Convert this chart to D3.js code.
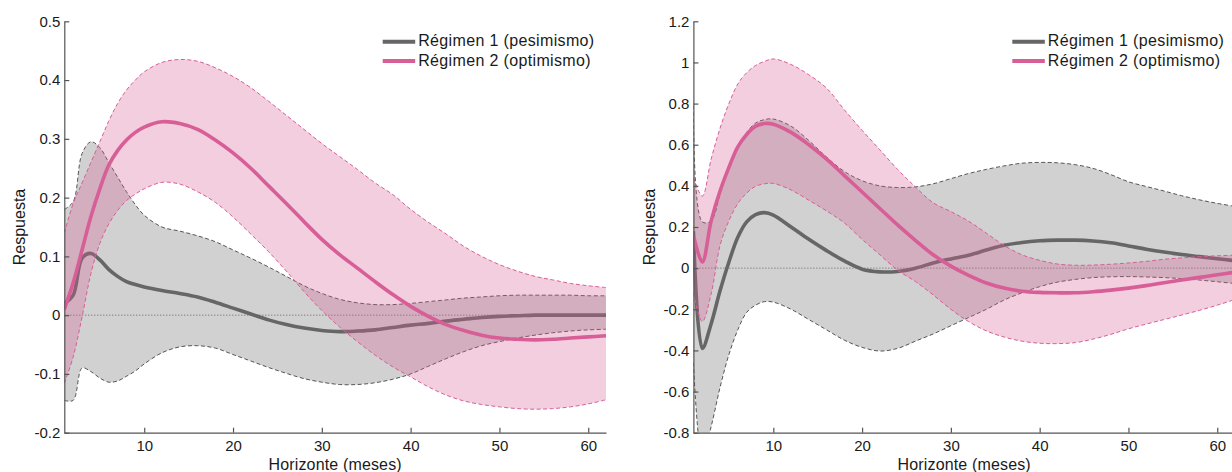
<!DOCTYPE html>
<html>
<head>
<meta charset="utf-8">
<script src="https://cdn.jsdelivr.net/npm/d3@7"></script>
<style>
  body { margin: 0; background: #fff; }
  svg text { font-family: "Liberation Sans", Arial, Helvetica, sans-serif; fill: #1a1a1a; }
</style>
</head>
<body>
<svg id="chart" width="1232" height="472"></svg>
<script>
// horizons (months) at which the responses were read
var horizons = [1, 2, 3, 4, 5, 6, 7, 8, 9,
  10, 12, 14, 16, 18, 20, 22, 24, 26, 28, 30, 32, 34, 36, 38, 40,
  42, 44, 46, 48, 50, 52, 54, 56, 58, 60, 62];

var seriesNames = ["Régimen 1 (pesimismo)", "Régimen 2 (optimismo)"];

// ---- left panel ----
var leftR1 = [0.02, 0.034, 0.097, 0.105, 0.094, 0.078, 0.066, 0.057, 0.052,
  0.048, 0.042, 0.037, 0.031, 0.022, 0.012, 0.002, -0.008, -0.016, -0.022, -0.026, -0.028, -0.027, -0.025, -0.021, -0.017,
  -0.014, -0.010, -0.007, -0.004, -0.002, -0.001, 0, 0, 0, 0, 0];
var leftR1Up = [0.18, 0.193, 0.275, 0.295, 0.285, 0.26, 0.235, 0.21, 0.188,
  0.17, 0.15, 0.143, 0.135, 0.125, 0.111, 0.097, 0.082, 0.066, 0.05, 0.037, 0.027, 0.021, 0.018, 0.018, 0.02,
  0.023, 0.026, 0.029, 0.031, 0.033, 0.034, 0.034, 0.034, 0.034, 0.033, 0.033];
var leftR1Lo = [-0.145, -0.145, -0.09, -0.096, -0.107, -0.114, -0.112, -0.104, -0.095,
  -0.083, -0.064, -0.054, -0.052, -0.056, -0.067, -0.078, -0.089, -0.099, -0.108, -0.114, -0.118, -0.118, -0.115, -0.109, -0.1,
  -0.087, -0.074, -0.062, -0.052, -0.045, -0.039, -0.034, -0.03, -0.027, -0.025, -0.024];
var leftR2 = [0.01, 0.055, 0.111, 0.168, 0.215, 0.255, 0.28, 0.298, 0.311,
  0.32, 0.329, 0.326, 0.316, 0.298, 0.276, 0.25, 0.22, 0.19, 0.159, 0.129, 0.103, 0.08, 0.057, 0.035, 0.015,
  -0.002, -0.016, -0.026, -0.034, -0.039, -0.041, -0.042, -0.041, -0.039, -0.037, -0.035];
var leftR2Up = [0.14, 0.19, 0.225, 0.26, 0.295, 0.33, 0.36, 0.383, 0.4,
  0.414, 0.43, 0.435, 0.432, 0.421, 0.406, 0.387, 0.364, 0.34, 0.316, 0.292, 0.27, 0.248, 0.225, 0.205, 0.18,
  0.158, 0.138, 0.117, 0.1, 0.086, 0.075, 0.066, 0.06, 0.054, 0.05, 0.047];
var leftR2Lo = [-0.116, -0.071, -0.003, 0.071, 0.122, 0.155, 0.178, 0.195, 0.206,
  0.215, 0.226, 0.223, 0.21, 0.192, 0.167, 0.138, 0.108, 0.075, 0.04, 0.008, -0.02, -0.045, -0.068, -0.088, -0.105,
  -0.122, -0.136, -0.146, -0.152, -0.156, -0.159, -0.16, -0.159, -0.156, -0.151, -0.144];
var leftYTicks = [-0.2, -0.1, 0, 0.1, 0.2, 0.3, 0.4, 0.5];

// ---- right panel ----
var rightR1 = [0.18, -0.39, -0.27, -0.11, 0.03, 0.15, 0.225, 0.26, 0.27,
  0.258, 0.2, 0.14, 0.085, 0.035, -0.005, -0.018, -0.016, 0.0, 0.025, 0.045, 0.063, 0.088, 0.111, 0.125, 0.133,
  0.136, 0.136, 0.132, 0.123, 0.108, 0.092, 0.078, 0.066, 0.056, 0.046, 0.036];
var rightR1Up = [0.79, 0.225, 0.23, 0.36, 0.49, 0.59, 0.66, 0.705, 0.722,
  0.725, 0.69, 0.62, 0.54, 0.47, 0.425, 0.4, 0.392, 0.395, 0.41, 0.435, 0.46, 0.48, 0.497, 0.51, 0.514,
  0.512, 0.503, 0.485, 0.455, 0.42, 0.397, 0.375, 0.352, 0.332, 0.315, 0.3];
var rightR1Lo = [-0.46, -0.92, -0.77, -0.58, -0.42, -0.3, -0.215, -0.18, -0.163,
  -0.165, -0.2, -0.25, -0.3, -0.35, -0.385, -0.403, -0.39, -0.355, -0.32, -0.28, -0.24, -0.2, -0.155, -0.12, -0.09,
  -0.068, -0.055, -0.046, -0.042, -0.041, -0.043, -0.046, -0.051, -0.058, -0.066, -0.075];
var rightR2 = [0.16, 0.03, 0.23, 0.375, 0.49, 0.59, 0.65, 0.69, 0.703,
  0.7, 0.66, 0.6, 0.53, 0.45, 0.37, 0.29, 0.21, 0.135, 0.065, 0.01, -0.035, -0.072, -0.097, -0.112, -0.118,
  -0.12, -0.12, -0.115, -0.107, -0.097, -0.085, -0.071, -0.058, -0.045, -0.032, -0.02];
var rightR2Up = [0.44, 0.35, 0.53, 0.68, 0.8, 0.895, 0.95, 0.985, 1.005,
  1.017, 0.99, 0.94, 0.875, 0.77, 0.67, 0.575, 0.48, 0.395, 0.318, 0.275, 0.228, 0.17, 0.11, 0.065, 0.038,
  0.02, 0.014, 0.015, 0.019, 0.025, 0.033, 0.043, 0.05, 0.056, 0.06, 0.063];
var rightR2Lo = [-0.12, -0.26, -0.125, 0.11, 0.23, 0.314, 0.365, 0.398, 0.41,
  0.412, 0.38, 0.33, 0.278, 0.22, 0.14, 0.065, -0.01, -0.065, -0.13, -0.2, -0.26, -0.305, -0.335, -0.355, -0.365,
  -0.367, -0.362, -0.345, -0.322, -0.295, -0.272, -0.25, -0.228, -0.205, -0.18, -0.152];
var rightYTicks = [-0.8, -0.6, -0.4, -0.2, 0, 0.2, 0.4, 0.6, 0.8, 1, 1.2];

var xTicks = [10, 20, 30, 40, 50, 60];

var GRAY = "#666666", PINK = "#d75e96";

var svg = d3.select("#chart");

function drawPanel(cfg) {
  var x = d3.scaleLinear().domain([1, 62]).range([cfg.left, cfg.right]);
  var y = d3.scaleLinear().domain([cfg.yTicks[0], cfg.yTicks[cfg.yTicks.length - 1]]).range([432.7, 21.3]);

  var g = svg.append("g");

  g.append("clipPath").attr("id", cfg.id + "-clip")
    .append("rect")
    .attr("x", cfg.left).attr("y", y.range()[1])
    .attr("width", cfg.right - cfg.left).attr("height", y.range()[0] - y.range()[1]);

  var plot = g.append("g").attr("clip-path", "url(#" + cfg.id + "-clip)");

  function rows(mid, up, lo) {
    return horizons.map(function(h, i) { return { h: h, m: mid[i], u: up[i], l: lo[i] }; });
  }

  var curve = d3.curveCatmullRom.alpha(0.5);
  var area = d3.area().curve(curve)
    .x(function(d) { return x(d.h); })
    .y0(function(d) { return y(d.l); })
    .y1(function(d) { return y(d.u); });
  var line = function(key) {
    return d3.line().curve(curve)
      .x(function(d) { return x(d.h); })
      .y(function(d) { return y(d[key]); });
  };

  var r1 = rows(cfg.r1, cfg.r1Up, cfg.r1Lo);
  var r2 = rows(cfg.r2, cfg.r2Up, cfg.r2Lo);

  // regime 1 band + line
  plot.append("path").datum(r1).attr("d", area)
    .attr("fill", GRAY).attr("fill-opacity", 0.3);
  ["u", "l"].forEach(function(k) {
    plot.append("path").datum(r1).attr("d", line(k))
      .attr("fill", "none").attr("stroke", "#555").attr("stroke-width", 1)
      .attr("stroke-dasharray", "4,2.5");
  });

  // zero reference
  plot.append("line")
    .attr("x1", cfg.left).attr("x2", cfg.right)
    .attr("y1", y(0)).attr("y2", y(0))
    .attr("stroke", "#444").attr("stroke-width", 0.8)
    .attr("stroke-dasharray", "1,2");

  plot.append("path").datum(r1).attr("d", line("m"))
    .attr("fill", "none").attr("stroke", GRAY).attr("stroke-width", 3.6);

  // regime 2 band + line
  plot.append("path").datum(r2).attr("d", area)
    .attr("fill", PINK).attr("fill-opacity", 0.3);
  ["u", "l"].forEach(function(k) {
    plot.append("path").datum(r2).attr("d", line(k))
      .attr("fill", "none").attr("stroke", PINK).attr("stroke-width", 1)
      .attr("stroke-dasharray", "4,2.5");
  });
  plot.append("path").datum(r2).attr("d", line("m"))
    .attr("fill", "none").attr("stroke", PINK).attr("stroke-width", 3.6);

  // axes
  var fmt = function(v) { return String(Math.round(v * 10) / 10); };
  var ax = g.append("g").attr("transform", "translate(" + cfg.left + ",0)")
    .call(d3.axisLeft(y).tickValues(cfg.yTicks).tickFormat(fmt).tickSizeInner(-5).tickSizeOuter(0).tickPadding(4));
  var bx = g.append("g").attr("transform", "translate(0," + y.range()[0] + ")")
    .call(d3.axisBottom(x).tickValues(xTicks).tickSizeInner(-5).tickSizeOuter(0).tickPadding(7.5));
  [ax, bx].forEach(function(a) {
    a.selectAll("path, line").attr("stroke", "#555").attr("stroke-width", 1.2);
    a.selectAll("text").attr("font-size", 15).attr("fill", "#1a1a1a")
      .style("font-family", "'Liberation Sans', Arial, Helvetica, sans-serif");
  });

  g.append("text")
    .attr("transform", "translate(" + cfg.yTitleX + "," + ((y.range()[0] + y.range()[1]) / 2) + ") rotate(-90)")
    .attr("text-anchor", "middle").attr("font-size", 16)
    .text("Respuesta");
  g.append("text")
    .attr("x", (cfg.left + cfg.right) / 2).attr("y", 469.5)
    .attr("text-anchor", "middle").attr("font-size", 16)
    .attr("letter-spacing", 0.15)
    .text("Horizonte (meses)");

  // legend
  var leg = g.append("g").attr("transform", "translate(" + cfg.legendX + ",0)");
  [GRAY, PINK].forEach(function(c, i) {
    var yy = 41.7 + i * 19.3;
    leg.append("line").attr("x1", 0).attr("x2", 32.5).attr("y1", yy).attr("y2", yy)
      .attr("stroke", c).attr("stroke-width", 4);
    leg.append("text").attr("x", 35.5).attr("y", yy + 4.7)
      .attr("font-size", 16).attr("letter-spacing", 0.35)
      .text(seriesNames[i]);
  });
}

drawPanel({
  id: "left", left: 64.3, right: 606, yTicks: leftYTicks,
  r1: leftR1, r1Up: leftR1Up, r1Lo: leftR1Lo,
  r2: leftR2, r2Up: leftR2Up, r2Lo: leftR2Lo,
  yTitleX: 25, legendX: 382.7
});

drawPanel({
  id: "right", left: 693.4, right: 1235, yTicks: rightYTicks,
  r1: rightR1, r1Up: rightR1Up, r1Lo: rightR1Lo,
  r2: rightR2, r2Up: rightR2Up, r2Lo: rightR2Lo,
  yTitleX: 655, legendX: 1012.3
});
</script>
</body>
</html>
